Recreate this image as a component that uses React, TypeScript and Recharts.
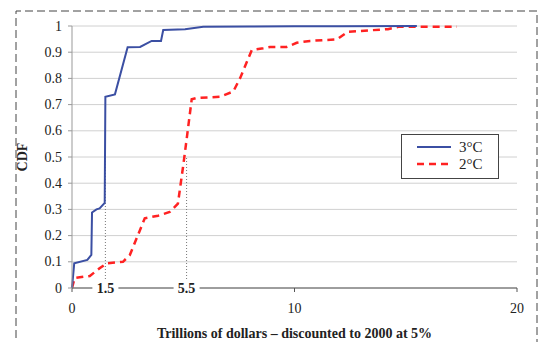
import {
  LineChart,
  Line,
  XAxis,
  YAxis,
  CartesianGrid,
  ReferenceLine,
} from 'recharts'

// CDF of costs, trillions of dollars discounted to 2000 at 5%
const costs3C = [0, 0.1, 0.69, 0.87, 0.9, 1.1, 1.24, 1.47, 1.5, 1.93, 2.5, 3.06, 3.58, 4.0, 4.1, 5.08, 5.9, 8, 10, 12, 15.5]
const cdf3C = [0, 0.094, 0.107, 0.126, 0.288, 0.3, 0.304, 0.325, 0.73, 0.739, 0.919, 0.92, 0.943, 0.943, 0.985, 0.988, 0.997, 0.998, 0.999, 0.999, 1]

const costs2C = [0, 0.12, 0.8, 1.24, 1.55, 2.29, 2.6, 3.27, 3.87, 4.39, 4.76, 4.99, 5.08, 5.38, 5.6, 6.65, 7.25, 7.55, 8.08, 8.6, 8.9, 9.65, 10.1, 10.7, 11.9, 12.4, 14.2, 14.67, 17.3]
const cdf2C = [0, 0.038, 0.046, 0.075, 0.094, 0.1, 0.126, 0.266, 0.276, 0.29, 0.322, 0.462, 0.52, 0.72, 0.725, 0.73, 0.75, 0.8, 0.908, 0.915, 0.92, 0.92, 0.936, 0.943, 0.949, 0.978, 0.988, 0.997, 0.997]

// median markers: where they are drawn, and what they are labelled
const medianAt = [1.5, 5.15]
const medianLabels = ['1.5', '5.5']
const xTicks = [0, ...medianAt, 10, 20]
const yTicks = [0, 0.1, 0.2, 0.3, 0.4, 0.5, 0.6, 0.7, 0.8, 0.9, 1]

const data3C = costs3C.map((x, i) => ({ x, y: cdf3C[i] }))
const data2C = costs2C.map((x, i) => ({ x, y: cdf2C[i] }))

const FONT = '"Liberation Serif", "Times New Roman", serif'
const BLUE = '#3b4fa3'
const RED = '#ff2222'

function XTick(props: any) {
  const { x, y, payload } = props
  const v = payload.value
  const mi = medianAt.indexOf(v)
  if (mi >= 0) {
    return (
      <g>
        <rect x={x - 13} y={y - 12} width={26} height={14} fill="#fff" />
        <text x={x} y={y - 4} textAnchor="middle" dominantBaseline="central"
          style={{ fontFamily: FONT, fontSize: 14, fontWeight: 'bold' }} fill="#222">{medianLabels[mi]}</text>
      </g>
    )
  }
  return (
    <text x={x} y={y + 16} textAnchor="middle" dominantBaseline="central"
      style={{ fontFamily: FONT, fontSize: 14 }} fill="#222">{v}</text>
  )
}

function YTick(props: any) {
  const { x, y, payload } = props
  return (
    <text x={x} y={y} textAnchor="end" dominantBaseline="central"
      style={{ fontFamily: FONT, fontSize: 14 }} fill="#222">{payload.value}</text>
  )
}

function LegendBox() {
  return (
    <div style={{ position: 'absolute', left: 401, top: 134, width: 96, height: 43, border: '1px solid #444', background: '#fff' }}>
      <svg width={96} height={43} style={{ display: 'block' }}>
        <line x1={15} x2={49} y1={12} y2={12} stroke={BLUE} strokeWidth={2} />
        <text x={57} y={12} dominantBaseline="central" style={{ fontFamily: FONT, fontSize: 15 }} fill="#222">3°C</text>
        <line x1={15} x2={49} y1={29} y2={29} stroke={RED} strokeWidth={2.5} strokeDasharray="7 5" />
        <text x={57} y={29} dominantBaseline="central" style={{ fontFamily: FONT, fontSize: 15 }} fill="#222">2°C</text>
      </svg>
    </div>
  )
}

export default function App() {
  return (
    <div style={{ position: 'absolute', left: 0, top: 0, width: 539, height: 342, background: '#fff' }}>
      <LineChart width={539} height={342} margin={{ top: 26, right: 22, bottom: 0, left: 0 }}>
        <CartesianGrid vertical={false} stroke="#d0d0d0" />
        <XAxis
          type="number"
          dataKey="x"
          domain={[0, 20]}
          ticks={xTicks}
          interval={0}
          height={54}
          tickSize={4}
          tickMargin={0}
          tick={<XTick />}
          stroke="#555"
          label={{ value: 'Trillions of dollars – discounted to 2000 at 5%', position: 'insideBottom', offset: 4, style: { fontFamily: FONT, fontSize: 14, fontWeight: 'bold', fill: '#222' } }}
        />
        <YAxis
          type="number"
          domain={[0, 1]}
          ticks={yTicks}
          interval={0}
          width={72}
          tickSize={4}
          tickMargin={6}
          stroke="#999"
          tick={<YTick />}
          label={{ value: 'CDF', angle: -90, position: 'insideLeft', offset: 22, style: { fontFamily: FONT, fontSize: 14, fontWeight: 'bold', fill: '#222', textAnchor: 'middle' } }}
        />
        {medianAt.map((m) => (
          <ReferenceLine key={m} segment={[{ x: m, y: 0 }, { x: m, y: 0.5 }]} stroke="#777" strokeDasharray="1 2" />
        ))}
        <Line data={data2C} dataKey="y" type="linear" stroke={RED} strokeWidth={2.5} strokeDasharray="7 5" dot={false} isAnimationActive={false} />
        <Line data={data3C} dataKey="y" type="linear" stroke={BLUE} strokeWidth={2} dot={false} isAnimationActive={false} />
      </LineChart>
      <LegendBox />
      <svg width={539} height={342} style={{ position: 'absolute', left: 0, top: 0, pointerEvents: 'none' }}>
        <path d="M16 350 L16 11 L537 11 L537 350" fill="none" stroke="#444" strokeWidth={1} strokeDasharray="8 4" />
      </svg>
    </div>
  )
}
